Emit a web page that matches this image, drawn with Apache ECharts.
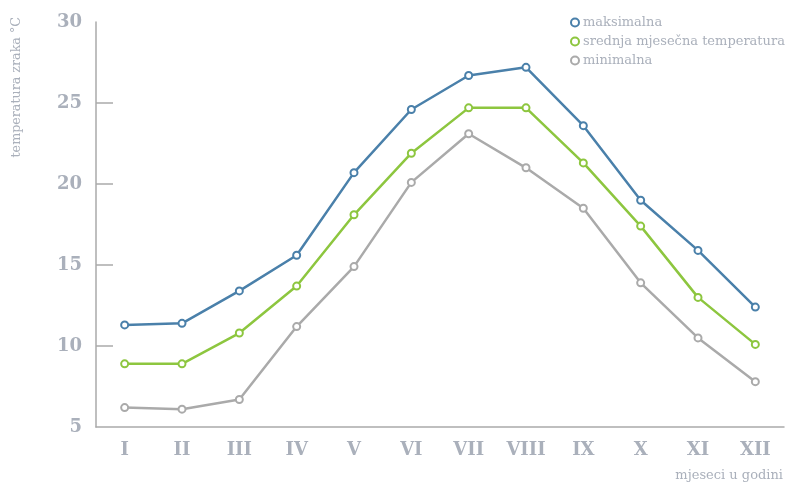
<!DOCTYPE html>
<html lang="hr">
<head>
<meta charset="utf-8" />
<title>temperatura zraka</title>
<script src="https://cdn.jsdelivr.net/npm/echarts@6/dist/echarts.min.js"></script>
<style>
  html, body { margin: 0; padding: 0; background: #fff; }
  #box { width: 787px; height: 486px; }
</style>
</head>
<body>
<div id="box"></div>
<script>
// mjeseci
var months = ['I', 'II', 'III', 'IV', 'V', 'VI', 'VII', 'VIII', 'IX', 'X', 'XI', 'XII'];
// vrijednosti ocitane sa slike
var maxTemp = [11.3, 11.4, 13.4, 15.6, 20.7, 24.6, 26.7, 27.2, 23.6, 19.0, 15.9, 12.4];
var meanTemp = [8.9, 8.9, 10.8, 13.7, 18.1, 21.9, 24.7, 24.7, 21.3, 17.4, 13.0, 10.1];
var minTemp = [6.2, 6.1, 6.7, 11.2, 14.9, 20.1, 23.1, 21.0, 18.5, 13.9, 10.5, 7.8];
var yTicks = [5, 10, 15, 20, 25, 30];

var textColor = '#aab0bb';
var axisColor = '#aaaaaa';
var serif = 'DejaVu Serif';

function line(name, data, color) {
    return {
        name: name,
        type: 'line',
        data: data,
        symbol: 'emptyCircle',
        symbolSize: 7,
        lineStyle: { color: color, width: 2.5 },
        itemStyle: { color: color, borderColor: color, borderWidth: 2 },
        emphasis: { disabled: true }
    };
}

var myChart = echarts.init(document.getElementById('box'));
var option = {
    animation: false,
    grid: { left: 96, right: 3, top: 22, bottom: 59 },
    legend: {
        orient: 'vertical',
        left: 565,
        top: 11,
        itemGap: 6,
        itemWidth: 8,
        itemHeight: 8,
        icon: 'emptyCircle',
        textStyle: { color: textColor, fontFamily: serif, fontSize: 13, padding: [0, 0, 0, -1] },
        data: ['maksimalna', 'srednja mjesečna temperatura', 'minimalna']
    },
    xAxis: {
        type: 'category',
        data: months,
        boundaryGap: true,
        axisLine: { lineStyle: { color: axisColor, width: 1.5 } },
        axisTick: { inside: true, length: 10, lineStyle: { color: axisColor, width: 1.5 } },
        axisLabel: { color: textColor, fontFamily: serif, fontWeight: 'bold', fontSize: 18, margin: 14 }
    },
    yAxis: {
        type: 'value',
        min: yTicks[0],
        max: yTicks[yTicks.length - 1],
        interval: 5,
        splitLine: { show: false },
        axisLine: { show: true, lineStyle: { color: axisColor, width: 1.5 } },
        axisTick: { show: true, inside: true, length: 17, customValues: [10, 15, 20, 25], lineStyle: { color: axisColor, width: 1.5 } },
        axisLabel: { color: textColor, fontFamily: serif, fontWeight: 'bold', fontSize: 18, margin: 14 }
    },
    graphic: [
        {
            type: 'text',
            left: 10,
            top: 17,
            rotation: Math.PI / 2,
            style: { text: 'temperatura zraka °C', fill: textColor, font: '12.7px "DejaVu Serif"' }
        },
        {
            type: 'text',
            right: 4,
            top: 469,
            style: { text: 'mjeseci u godini', fill: textColor, font: '13px "DejaVu Serif"' }
        }
    ],
    series: [
        line('maksimalna', maxTemp, '#4a80aa'),
        line('srednja mjesečna temperatura', meanTemp, '#8dc63f'),
        line('minimalna', minTemp, '#aaaaaa')
    ]
};
myChart.setOption(option);
</script>
</body>
</html>
